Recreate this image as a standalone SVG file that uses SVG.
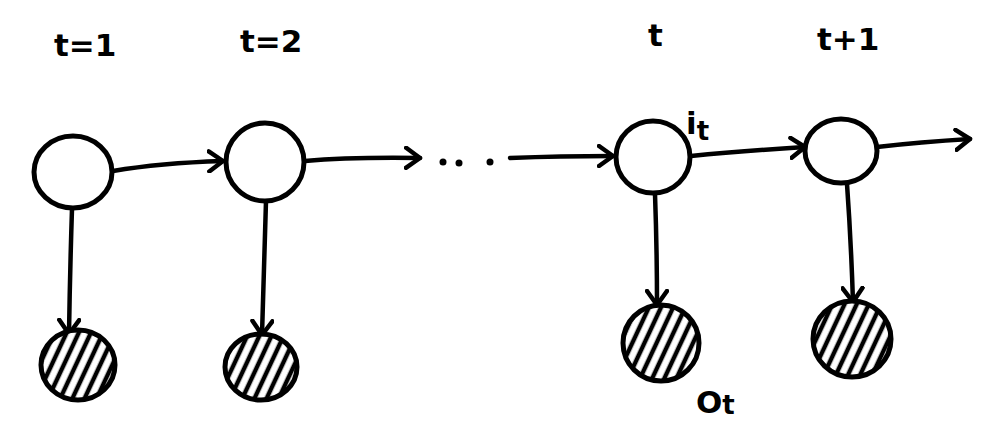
<svg xmlns="http://www.w3.org/2000/svg" width="990" height="425" viewBox="0 0 990 425">
<style>
.hid{fill:#fff;stroke:#000;stroke-width:5}
.obs{fill:url(#hatch);stroke:#000;stroke-width:5}
.edge{fill:none;stroke:#000;stroke-width:4.5;stroke-linecap:round;marker-end:url(#arr)}
.lbl{font-family:"DejaVu Sans",sans-serif;font-weight:bold;font-size:31px;fill:#000}
.dot{fill:#000}
</style>
<defs>
<pattern id="hatch" patternUnits="userSpaceOnUse" width="11" height="11" patternTransform="rotate(25)">
<rect width="11" height="11" fill="#fff"/>
<line x1="3" y1="0" x2="3" y2="11" stroke="#000" stroke-width="4.5"/>
</pattern>
<marker id="arr" markerUnits="userSpaceOnUse" viewBox="-16 -12 20 24" markerWidth="20" markerHeight="24" refX="0" refY="0" orient="auto">
<path d="M-14,-10 L0,0 L-14,10" fill="none" stroke="#000" stroke-width="4.5" stroke-linecap="round" stroke-linejoin="round"/>
</marker>
</defs>
<g id="labels">
<text class="lbl" x="54" y="56">t=1</text>
<text class="lbl" x="240" y="52">t=2</text>
<text class="lbl" x="648" y="46">t</text>
<text class="lbl" x="817" y="50">t+1</text>
</g>
<g id="connectors">
<path class="edge" d="M113,171 Q160,163 223,161"/>
<path class="edge" d="M305,161 Q350,157 420,158"/>
<path class="edge" d="M510,158 Q560,156 613,156"/>
<path class="edge" d="M691,156 Q740,151 805,147"/>
<path class="edge" d="M877,147 Q920,142 970,139"/>
<path class="edge" d="M72,209 Q70,270 69,334"/>
<path class="edge" d="M266,201 Q264,270 262,335"/>
<path class="edge" d="M655,194 Q657,250 657,305"/>
<path class="edge" d="M847,184 Q851,240 853,302"/>
</g>
<g id="dots">
<circle class="dot" cx="443" cy="162" r="3.5"/>
<circle class="dot" cx="459" cy="163" r="3.5"/>
<circle class="dot" cx="490" cy="162" r="3.5"/>
</g>
<g id="h1"><ellipse class="hid" cx="73" cy="172" rx="39" ry="36"/></g>
<g id="h2"><ellipse class="hid" cx="265" cy="162" rx="39" ry="39"/></g>
<g id="ht"><ellipse class="hid" cx="653" cy="157" rx="37" ry="36"/></g>
<g id="ht1"><ellipse class="hid" cx="841" cy="151" rx="36" ry="32"/></g>
<g id="o1"><ellipse class="obs" cx="78" cy="365" rx="37" ry="35"/></g>
<g id="o2"><ellipse class="obs" cx="261" cy="367" rx="36" ry="33"/></g>
<g id="ot"><ellipse class="obs" cx="661" cy="343" rx="38" ry="38"/></g>
<g id="ot1"><ellipse class="obs" cx="852" cy="339" rx="39" ry="38"/></g>
<g id="it-label">
<text class="lbl" x="686" y="134" font-size="32">i<tspan font-size="26" dy="6">t</tspan></text>
</g>
<g id="ot-label">
<text class="lbl" x="696" y="413" font-size="32">O<tspan font-size="26" dy="1">t</tspan></text>
</g>
</svg>
